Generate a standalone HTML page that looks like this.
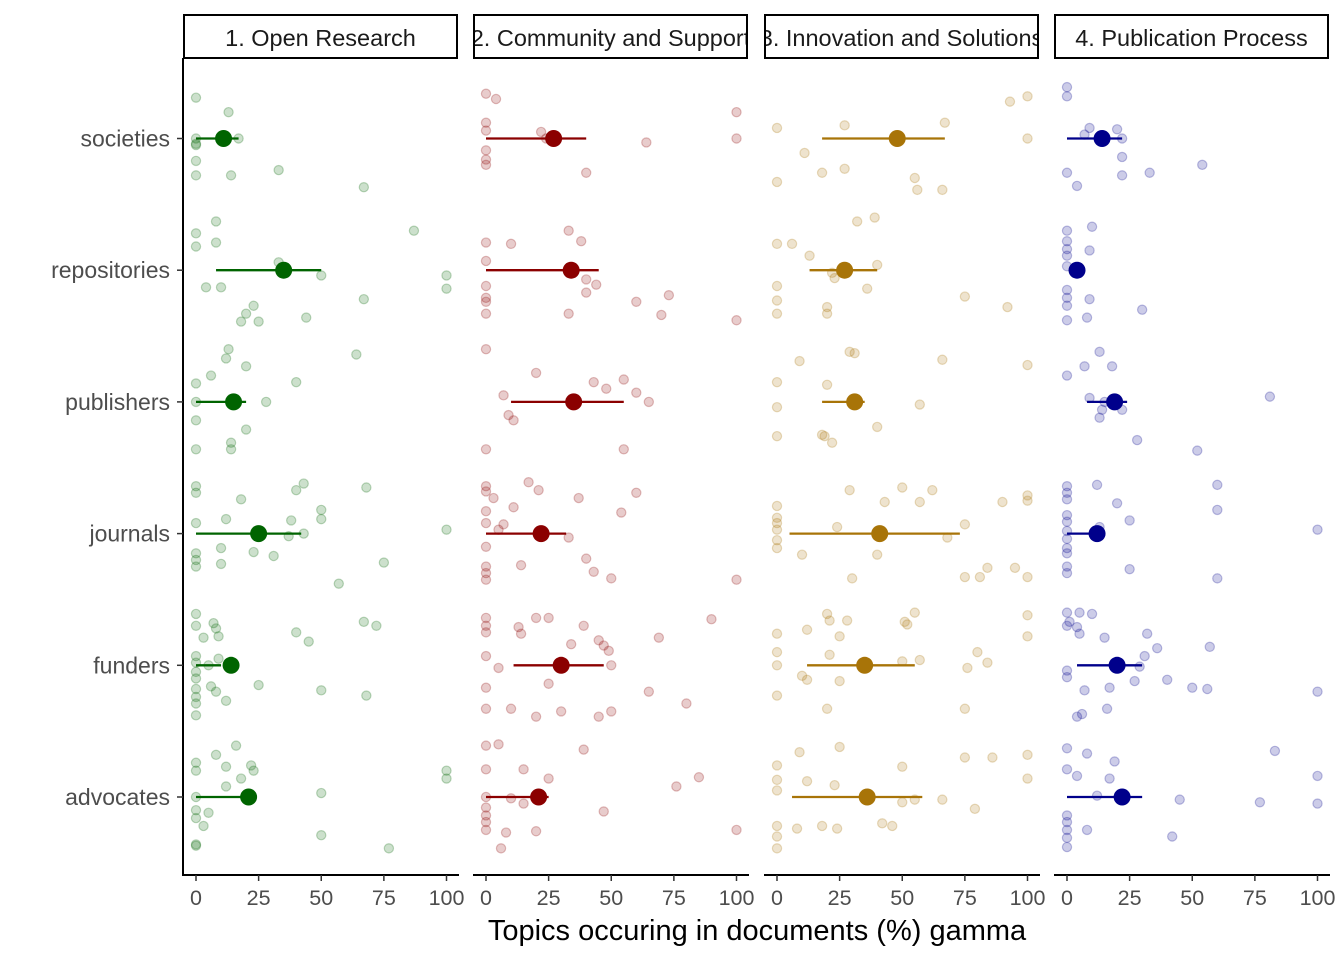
<!DOCTYPE html>
<html><head><meta charset="utf-8"><style>
html,body{margin:0;padding:0;background:#fff;}
svg{display:block;font-family:"Liberation Sans",sans-serif;}
</style></head><body>
<svg id="chart" width="1344" height="960" viewBox="0 0 1344 960" xmlns="http://www.w3.org/2000/svg"></svg>
<script>
const categories = ["societies","repositories","publishers","journals","funders","advocates"];
const panelTitles = ["1. Open Research","2. Community and Support","3. Innovation and Solutions","4. Publication Process"];
const panelColors = ["#006400","#8b0000","#a87408","#00008b"];
const xTicks = [0,25,50,75,100];
// mean, lo, hi per category per panel
const means1 = [[11,0,17],[35,8,50],[15,0,20],[25,0,42],[14,0,10],[21,0,24]];
const means2 = [[27,0,40],[34,0,45],[35,10,55],[22,0,32],[30,11,47],[21,0,25]];
const means3 = [[48,18,67],[27,13,40],[31,18,35],[41,5,73],[35,12,55],[36,6,58]];
const means4 = [[14,0,22],[4,2,6],[19,8,24],[12,0,12],[20,4,30],[22,0,30]];
// points: [value, jitter] per category
const pts1 = [
[[0,-0.31],[13,-0.2],[0,0],[0,0.04],[17,0],[0,0.17],[33,0.24],[0,0.28],[14,0.28],[67,0.37],[0,0.05]],
[[8,-0.37],[87,-0.3],[0,-0.28],[8,-0.21],[0,-0.18],[33,-0.06],[50,0.04],[100,0.04],[100,0.14],[4,0.13],[10,0.13],[67,0.22],[23,0.27],[20,0.33],[18,0.39],[25,0.39],[44,0.36]],
[[13,-0.4],[12,-0.33],[64,-0.36],[20,-0.27],[6,-0.2],[0,-0.14],[40,-0.15],[0,0],[28,0],[0,0.14],[20,0.21],[14,0.31],[14,0.36],[0,0.36]],
[[0,-0.36],[0,-0.31],[43,-0.38],[68,-0.35],[40,-0.33],[18,-0.26],[50,-0.18],[50,-0.11],[38,-0.1],[12,-0.11],[0,-0.08],[100,-0.03],[37,0.02],[43,0],[10,0.11],[0,0.15],[0,0.2],[0,0.25],[10,0.23],[23,0.14],[31,0.17],[75,0.22],[57,0.38]],
[[0,-0.39],[0,-0.3],[7,-0.32],[8,-0.28],[3,-0.21],[9,-0.22],[67,-0.33],[72,-0.3],[40,-0.25],[45,-0.18],[0,-0.07],[0,-0.02],[5,0],[0,0.05],[9,-0.05],[0,0.1],[6,0.16],[0,0.18],[8,0.2],[25,0.15],[50,0.19],[68,0.23],[0,0.24],[0,0.29],[12,0.27],[0,0.38]],
[[16,-0.39],[8,-0.32],[0,-0.26],[22,-0.24],[23,-0.2],[100,-0.2],[100,-0.14],[12,-0.23],[0,-0.2],[18,-0.14],[12,-0.08],[0,0],[50,-0.03],[0,0.1],[5,0.12],[0,0.16],[3,0.22],[50,0.29],[77,0.39],[0,0.36],[0,0.37]]];
const pts2 = [
[[0,-0.34],[4,-0.3],[100,-0.2],[0,-0.12],[0,-0.06],[22,-0.05],[100,0],[64,0.03],[0,0.09],[0,0.16],[0,0.2],[40,0.26],[24,0]],
[[33,-0.3],[38,-0.22],[0,-0.21],[10,-0.2],[0,-0.07],[40,0.07],[44,0.11],[0,0.12],[40,0.17],[0,0.21],[0,0.24],[73,0.19],[60,0.24],[33,0.33],[0,0.33],[70,0.34],[100,0.38]],
[[0,-0.4],[20,-0.22],[43,-0.15],[55,-0.17],[48,-0.1],[60,-0.07],[7,-0.05],[65,0],[9,0.1],[11,0.14],[0,0.36],[55,0.36]],
[[0,-0.36],[0,-0.32],[17,-0.39],[21,-0.33],[3,-0.27],[11,-0.2],[37,-0.27],[60,-0.31],[0,-0.17],[0,-0.08],[5,-0.03],[7,-0.07],[54,-0.16],[33,0.03],[0,0.1],[0,0.25],[0,0.3],[0,0.35],[14,0.24],[40,0.19],[43,0.29],[50,0.34],[100,0.35]],
[[0,-0.36],[0,-0.3],[0,-0.25],[20,-0.36],[25,-0.36],[13,-0.29],[14,-0.24],[39,-0.3],[90,-0.35],[45,-0.19],[47,-0.15],[49,-0.11],[69,-0.21],[34,-0.16],[0,-0.07],[50,0],[5,0.02],[25,0.14],[0,0.17],[65,0.2],[0,0.33],[10,0.33],[20,0.39],[30,0.35],[45,0.39],[50,0.35],[80,0.29]],
[[0,-0.39],[5,-0.4],[39,-0.36],[0,-0.21],[15,-0.21],[25,-0.14],[85,-0.15],[76,-0.08],[0,0],[10,0.01],[0,0.08],[0,0.14],[15,0.05],[47,0.11],[0,0.19],[0,0.25],[8,0.27],[20,0.26],[100,0.25],[6,0.39]]];
const pts3 = [
[[100,-0.32],[93,-0.28],[67,-0.12],[27,-0.1],[0,-0.08],[100,0],[11,0.11],[18,0.26],[0,0.33],[27,0.23],[55,0.3],[56,0.39],[66,0.39]],
[[32,-0.37],[39,-0.4],[0,-0.2],[6,-0.2],[13,-0.11],[40,-0.04],[22,0.02],[23,0.06],[0,0.12],[0,0.23],[36,0.14],[75,0.2],[92,0.28],[20,0.28],[20,0.33],[0,0.33]],
[[29,-0.38],[31,-0.37],[9,-0.31],[66,-0.32],[100,-0.28],[0,-0.15],[20,-0.13],[57,0.02],[0,0.04],[40,0.19],[18,0.25],[19,0.26],[0,0.26],[22,0.31]],
[[29,-0.33],[50,-0.35],[62,-0.33],[57,-0.24],[43,-0.24],[90,-0.24],[100,-0.29],[100,-0.25],[0,-0.21],[0,-0.12],[0,-0.08],[75,-0.07],[0,-0.03],[24,-0.05],[0,0.05],[0,0.11],[68,0.03],[40,0.16],[10,0.16],[95,0.26],[84,0.26],[75,0.33],[81,0.33],[30,0.34],[100,0.33]],
[[20,-0.39],[28,-0.34],[21,-0.34],[55,-0.4],[51,-0.33],[52,-0.31],[100,-0.38],[100,-0.22],[12,-0.27],[0,-0.24],[25,-0.22],[21,-0.08],[0,-0.1],[0,0],[80,-0.1],[84,-0.02],[76,0.02],[57,-0.04],[50,-0.03],[10,0.08],[12,0.11],[25,0.12],[0,0.23],[20,0.33],[75,0.33]],
[[9,-0.34],[25,-0.38],[75,-0.3],[100,-0.32],[86,-0.3],[0,-0.24],[50,-0.23],[0,-0.13],[12,-0.12],[23,-0.09],[100,-0.14],[0,-0.05],[50,0.04],[55,0.02],[66,0.02],[79,0.09],[0,0.22],[8,0.24],[18,0.22],[24,0.24],[42,0.2],[46,0.22],[0,0.3],[0,0.39]]];
const pts4 = [
[[0,-0.39],[0,-0.32],[9,-0.08],[20,-0.07],[7,-0.03],[22,0],[22,0.14],[54,0.2],[0,0.26],[22,0.28],[33,0.26],[4,0.36]],
[[10,-0.33],[0,-0.3],[0,-0.22],[0,-0.16],[9,-0.15],[0,-0.11],[0,-0.03],[0,0.15],[0,0.21],[9,0.22],[0,0.27],[8,0.36],[0,0.38],[30,0.3]],
[[13,-0.38],[7,-0.27],[18,-0.27],[0,-0.2],[9,-0.03],[15,0],[14,0.06],[22,0.06],[13,0.12],[81,-0.04],[28,0.29],[52,0.37]],
[[0,-0.36],[12,-0.37],[60,-0.37],[0,-0.31],[0,-0.26],[20,-0.23],[60,-0.18],[0,-0.14],[0,-0.09],[25,-0.1],[13,-0.05],[0,-0.02],[0,0.04],[100,-0.03],[0,0.11],[0,0.15],[0,0.25],[0,0.3],[25,0.27],[60,0.34]],
[[0,-0.4],[5,-0.4],[10,-0.39],[1,-0.33],[4,-0.29],[0,-0.3],[5,-0.24],[32,-0.24],[36,-0.13],[15,-0.21],[57,-0.14],[31,-0.07],[29,0.01],[0,0.04],[0,0.09],[27,0.12],[7,0.19],[17,0.17],[40,0.11],[50,0.17],[56,0.18],[100,0.2],[16,0.33],[6,0.37],[4,0.39]],
[[0,-0.37],[8,-0.33],[19,-0.27],[83,-0.35],[0,-0.21],[4,-0.16],[17,-0.14],[100,-0.16],[12,-0.01],[45,0.02],[0,0.14],[0,0.19],[77,0.04],[100,0.05],[0,0.25],[8,0.25],[0,0.31],[42,0.3],[0,0.38]]];

const allMeans=[means1,means2,means3,means4], allPts=[pts1,pts2,pts3,pts4];
const NS="http://www.w3.org/2000/svg", svg=document.getElementById('chart');
function mk(tag,attrs,parent,text){const e=document.createElementNS(NS,tag);for(const k in attrs)e.setAttribute(k,attrs[k]);if(text!==undefined)e.textContent=text;(parent||svg).appendChild(e);return e;}
const panelLeft=[183,473,764,1054], panelW=276, x0off=13, xScaleW=250.5;
const yTop=58, yBot=875;
function yPos(i,j){return 138.5+i*131.7+j*131.7;}
function xPos(p,v){return panelLeft[p]+x0off+v/100*xScaleW;}

for(let p=0;p<4;p++){
  const g=mk('g',{});  
  const s=mk('g',{},g);  
  mk('rect',{x:panelLeft[p]+1,y:15,width:panelW-3,height:43,fill:'#fff',stroke:'#000','stroke-width':2},s);
  const sv=mk('svg',{x:panelLeft[p]+2,y:16,width:panelW-5,height:41,overflow:'hidden'},s);
  mk('text',{x:(panelW-5)/2,y:30,'text-anchor':'middle','font-size':23.5,fill:'#1a1a1a'},sv,panelTitles[p]);
  const ax=mk('g',{},g);  
  mk('line',{x1:panelLeft[p],x2:panelLeft[p]+panelW,y1:yBot,y2:yBot,stroke:'#000','stroke-width':2},ax);
  xTicks.forEach(t=>{
    mk('line',{x1:xPos(p,t),x2:xPos(p,t),y1:yBot,y2:yBot+6,stroke:'#333','stroke-width':1.5},ax);
    const tl=mk('text',{x:xPos(p,t),y:yBot+30,'text-anchor':'middle','font-size':21.5,fill:'#4d4d4d'},ax,String(t));
     
  });
  const col=panelColors[p];
  categories.forEach((c,i)=>{
    allPts[p][i].forEach(pt=>{
      const d=mk('circle',{cx:xPos(p,pt[0]),cy:yPos(i,pt[1]),r:4.6,fill:col,'fill-opacity':0.2,stroke:col,'stroke-opacity':0.25,'stroke-width':1.2},g);
       
    });
  });
  categories.forEach((c,i)=>{
    const m=allMeans[p][i];
    const l=mk('line',{x1:xPos(p,m[1]),x2:xPos(p,m[2]),y1:yPos(i,0),y2:yPos(i,0),stroke:col,'stroke-width':2.3},g);
     
    const d=mk('circle',{cx:xPos(p,m[0]),cy:yPos(i,0),r:8.5,fill:col},g);
     
  });
}
const ya=mk('g',{});  
mk('line',{x1:183,x2:183,y1:yTop,y2:yBot+1,stroke:'#000','stroke-width':2},ya);
categories.forEach((c,i)=>{
  mk('line',{x1:177,x2:183,y1:yPos(i,0),y2:yPos(i,0),stroke:'#333','stroke-width':1.5},ya);
  const t=mk('text',{x:170,y:yPos(i,0)+8,'text-anchor':'end','font-size':23,fill:'#4d4d4d'},ya,c);
   
});
const xt=mk('text',{x:757,y:940,'text-anchor':'middle','font-size':29,fill:'#000'},svg,'Topics occuring in documents (%) gamma');
 
</script>
</body></html>
